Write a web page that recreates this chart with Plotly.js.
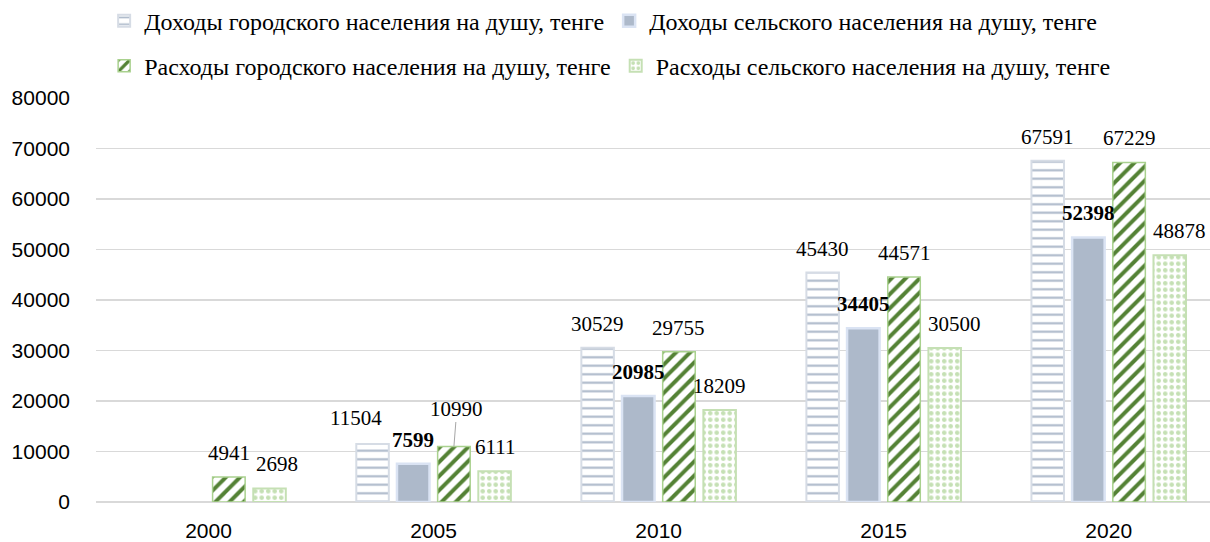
<!DOCTYPE html>
<html>
<head>
<meta charset="utf-8">
<script src="https://cdn.plot.ly/plotly-3.0.1.min.js"></script>
<style>html,body{margin:0;padding:0;background:#fff;}#chart{width:1210px;height:542px;}</style>
</head>
<body>
<div id="chart"></div>
<script>
// ---- data ----
const years = ['2000', '2005', '2010', '2015', '2020'];
const seriesNames = [
  'Доходы городского населения на душу, тенге',
  'Доходы сельского населения на душу, тенге',
  'Расходы городского населения на душу, тенге',
  'Расходы сельского населения на душу, тенге'
];
const urbanIncome  = [null, 11504, 30529, 45430, 67591];
const ruralIncome  = [null, 7599, 20985, 34405, 52398];
const urbanExpense = [4941, 10990, 29755, 44571, 67229];
const ruralExpense = [2698, 6111, 18209, 30500, 48878];
const yTicks = [0, 10000, 20000, 30000, 40000, 50000, 60000, 70000, 80000];

// ---- styling ----
const serif = 'Liberation Serif, Times New Roman, serif';
const sans = 'Liberation Sans, Arial, sans-serif';
const bargap = 0.277;
const series = [urbanIncome, ruralIncome, urbanExpense, ruralExpense];
const markers = [
  {color: '#ffffff', line: {color: '#d6dce5', width: 2},
   pattern: {shape: '-', fgcolor: '#adb9ca', bgcolor: '#ffffff', fgopacity: 1, size: 8.5, solidity: 0.25, fillmode: 'overlay'}},
  {color: '#adb9ca', line: {color: '#dae3f3', width: 2.5}},
  {color: '#ffffff', line: {color: '#a9d18e', width: 1.5},
   pattern: {shape: '/', fgcolor: '#548235', bgcolor: '#ffffff', fgopacity: 1, size: 10, solidity: 0.4, fillmode: 'overlay'}},
  {color: '#ffffff', line: {color: '#c5e0b4', width: 2},
   pattern: {shape: '.', fgcolor: '#c5e0b4', bgcolor: '#ffffff', fgopacity: 1, size: 6.5, solidity: 0.4, fillmode: 'overlay'}}
];
const legendIds = ['legend', 'legend', 'legend2', 'legend2'];

const traces = series.map((vals, j) => ({
  type: 'bar', x: years, y: vals, name: seriesNames[j],
  marker: markers[j], legend: legendIds[j], hoverinfo: 'skip'
}));

// label nudges (pixels) for a few labels, as in the original layout
const nudges = {'3-0': [7, 0], '0-1': [-17, 2], '3-3': [10, 0], '3-4': [10, 0]};
const annotations = [];
series.forEach((vals, j) => {
  const off = (j - 1.5) * (1 - bargap) / 4;
  vals.forEach((v, i) => {
    if (v === null) return;
    const key = j + '-' + i;
    const font = {family: serif, size: 21, color: '#000', weight: j === 1 ? 'bold' : 'normal'};
    if (j === 2 && i === 1) {
      annotations.push({x: i + off, y: v, xref: 'x', yref: 'y', text: String(v), font: font,
        showarrow: true, arrowhead: 0, arrowwidth: 1, arrowcolor: '#a6a6a6', ax: 3, ay: -38, standoff: 0});
      return;
    }
    const n = nudges[key] || [0, 0];
    annotations.push({x: i + off, y: v, xref: 'x', yref: 'y', text: String(v), font: font,
      showarrow: false, xanchor: 'center', yanchor: 'middle', xshift: n[0], yshift: 24 + n[1]});
  });
});

const layout = {
  width: 1210, height: 542,
  margin: {l: 96, r: 0, t: 98, b: 40, autoexpand: false},
  paper_bgcolor: '#fff', plot_bgcolor: '#fff',
  barmode: 'group', bargap: bargap, bargroupgap: 0.2,
  font: {family: serif, color: '#000'},
  xaxis: {type: 'category', range: [-0.5, 4.45], showgrid: false, zeroline: false, showline: false,
    ticks: '', tickfont: {family: sans, size: 21, color: '#000'}, ticklabelstandoff: 14, fixedrange: true},
  yaxis: {range: [0, 80000], tickvals: yTicks, ticktext: yTicks.map(String), showgrid: true,
    gridcolor: '#d9d9d9', gridwidth: 1.2, zeroline: true, zerolinecolor: '#d9d9d9', zerolinewidth: 1.2,
    showline: false, ticks: '', tickfont: {family: sans, size: 21, color: '#000'}, ticklabelstandoff: 25, fixedrange: true},
  legend: {orientation: 'h', x: 0.0073, xanchor: 'left', y: 1.19, yanchor: 'middle',
    font: {family: serif, size: 24, color: '#000'}, bgcolor: 'rgba(0,0,0,0)', traceorder: 'normal'},
  legend2: {orientation: 'h', x: 0.0073, xanchor: 'left', y: 1.079, yanchor: 'middle',
    font: {family: serif, size: 24, color: '#000'}, bgcolor: 'rgba(0,0,0,0)', traceorder: 'normal'},
  annotations: annotations,
  hovermode: false
};

Plotly.newPlot('chart', traces, layout, {displayModeBar: false, staticPlot: true});
</script>
</body>
</html>
